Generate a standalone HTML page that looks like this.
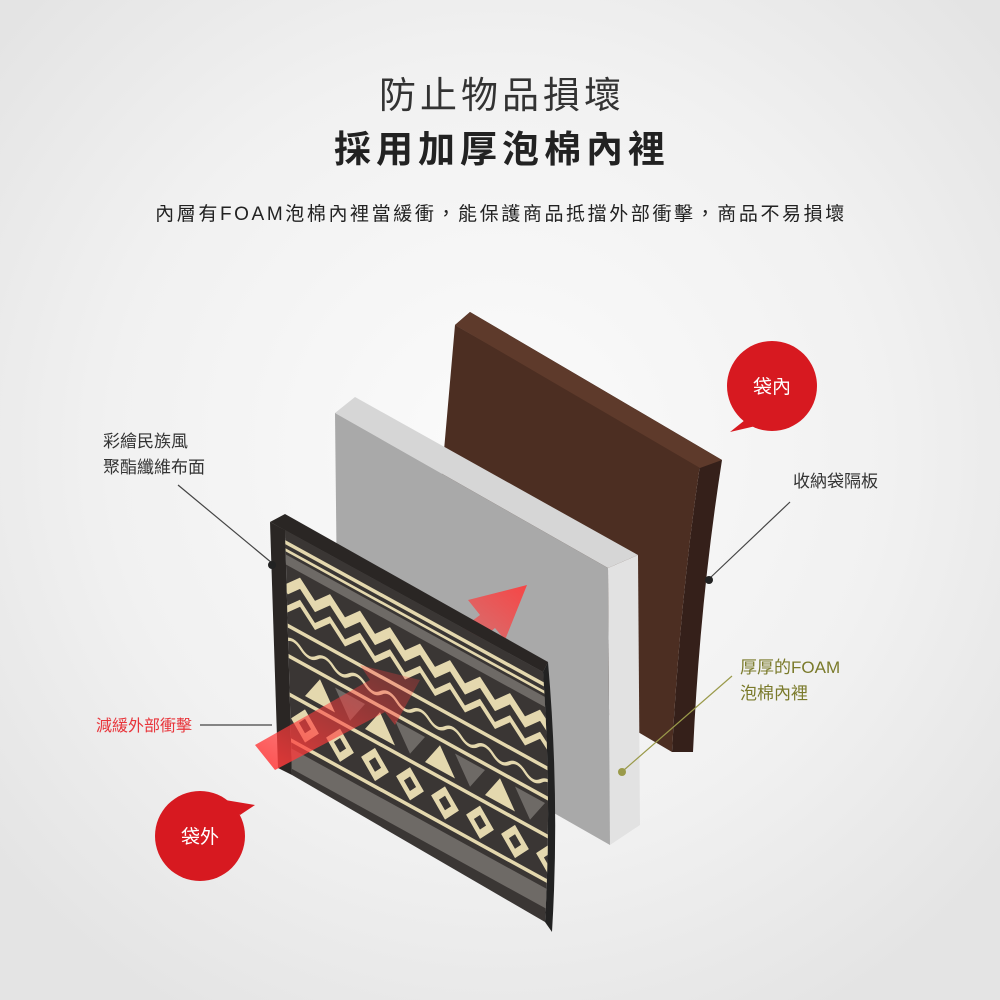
<!DOCTYPE html>
<html><head><meta charset="utf-8"><style>
html,body{margin:0;padding:0;width:1000px;height:1000px;overflow:hidden;background:#eeeeee;}
svg{display:block}
text{font-family:"Liberation Sans","Noto Sans CJK TC",sans-serif;}
</style></head><body>
<svg width="1000" height="1000" viewBox="0 0 1000 1000" xmlns="http://www.w3.org/2000/svg">
<defs>
<radialGradient id="bg" cx="50%" cy="45%" r="65%">
<stop offset="0" stop-color="#fbfbfb"/><stop offset="0.6" stop-color="#f1f1f1"/><stop offset="1" stop-color="#e4e4e4"/></radialGradient>
<linearGradient id="ar1" x1="0" y1="1" x2="1" y2="0">
<stop offset="0" stop-color="#ff3b3b" stop-opacity="0"/><stop offset="1" stop-color="#ff3b3b" stop-opacity="0.9"/></linearGradient>
<linearGradient id="ar2" x1="0" y1="1" x2="1" y2="0">
<stop offset="0" stop-color="#ff3b3b" stop-opacity="0.9"/><stop offset="1" stop-color="#ff3b3b" stop-opacity="0.2"/></linearGradient>
<clipPath id="pc"><path d="M285,530 L543,672 Q552,800 545,922 L292,775 Z"/></clipPath>
</defs>
<rect width="1000" height="1000" fill="url(#bg)"/>
<text x="502" y="108" text-anchor="middle" font-size="37" letter-spacing="4" fill="#333">防止物品損壞</text>
<text x="502" y="162" text-anchor="middle" font-size="37" letter-spacing="5" font-weight="bold" fill="#222">採用加厚泡棉內裡</text>
<text x="501" y="220" text-anchor="middle" font-size="19" letter-spacing="2.6" fill="#222">內層有FOAM泡棉內裡當緩衝，能保護商品抵擋外部衝擊，商品不易損壞</text>

<!-- brown panel -->
<path d="M470,312 L722,460 Q700,600 693,752 L672,752 Q680,600 700,465 L455,325 Z" fill="#35201a"/>
<path d="M455,325 L700,465 Q680,600 672,752 L430,610 Z" fill="#4c2e22"/>
<path d="M470,312 L722,460 L700,468 L455,325 Z" fill="#5e3a2b"/>

<!-- gray foam -->
<path d="M335,413 L355,397 L638,555 L608,568 Z" fill="#d6d6d6"/>
<path d="M608,568 L638,555 L640,825 L610,845 Z" fill="#e2e2e2"/>
<path d="M335,413 L608,568 L610,845 L338,690 Z" fill="#a9a9a9"/>

<!-- arrow behind -->
<path d="M380,690 L480,615 L468,600 L527,585 L505,640 L495,628 L400,705 Z" fill="url(#ar1)"/>

<!-- pattern panel -->
<path d="M270,522 L285,514 L548,662 L543,672 Z" fill="#2a2624"/>
<path d="M543,672 L548,662 Q560,800 552,932 L545,922 Q552,800 543,672 Z" fill="#222"/>
<path d="M270,522 L285,530 L292,775 L278,768 Z" fill="#2a2624"/>
<path d="M285,530 L543,672 Q552,800 545,922 L292,775 Z" fill="#3a3634"/>
<g clip-path="url(#pc)">
<g transform="matrix(1,0.55,0,1,285,530)">
<rect x="0" y="0" width="270" height="8" fill="#3a3634"/>
<rect x="0" y="10" width="270" height="4" fill="#e4d8ae"/>
<rect x="0" y="18" width="270" height="3" fill="#e4d8ae"/>
<rect x="0" y="24" width="270" height="10" fill="#6e6a66"/>
<polyline points="0,60 15,45 30,60 45,45 60,60 75,45 90,60 105,45 120,60 135,45 150,60 165,45 180,60 195,45 210,60 225,45 240,60 255,45 270,60" fill="none" stroke="#e4d8ae" stroke-width="8"/>
<polyline points="0,80 15,65 30,80 45,65 60,80 75,65 90,80 105,65 120,80 135,65 150,80 165,65 180,80 195,65 210,80 225,65 240,80 255,65 270,80" fill="none" stroke="#e4d8ae" stroke-width="5"/>
<rect x="0" y="92" width="270" height="4" fill="#e4d8ae"/>
<path d="M0,110 q8,-8 16,0 t16,0 t16,0 t16,0 t16,0 t16,0 t16,0 t16,0 t16,0 t16,0 t16,0 t16,0 t16,0 t16,0 t16,0 t16,0 t16,0" fill="none" stroke="#e4d8ae" stroke-width="3"/>
<rect x="0" y="122" width="270" height="4" fill="#e4d8ae"/>
<path d="M20,155 l15,-25 l15,25 z M80,155 l15,-25 l15,25 z M140,155 l15,-25 l15,25 z M200,155 l15,-25 l15,25 z" fill="#e4d8ae"/>
<path d="M50,130 l15,25 l15,-25 z M110,130 l15,25 l15,-25 z M170,130 l15,25 l15,-25 z M230,130 l15,25 l15,-25 z" fill="#6e6a66"/>
<rect x="0" y="160" width="270" height="4" fill="#e4d8ae"/>
<g fill="none" stroke="#e4d8ae" stroke-width="6">
<path d="M10,185 l10,-12 l10,12 l-10,12 z"/><path d="M45,185 l10,-12 l10,12 l-10,12 z"/><path d="M80,185 l10,-12 l10,12 l-10,12 z"/><path d="M115,185 l10,-12 l10,12 l-10,12 z"/><path d="M150,185 l10,-12 l10,12 l-10,12 z"/><path d="M185,185 l10,-12 l10,12 l-10,12 z"/><path d="M220,185 l10,-12 l10,12 l-10,12 z"/><path d="M255,185 l10,-12 l10,12 l-10,12 z"/>
</g>
<rect x="0" y="205" width="270" height="4" fill="#e4d8ae"/>
<rect x="0" y="215" width="270" height="20" fill="#6e6a66"/>
</g>
</g>

<!-- front arrow -->
<path d="M255,745 L370,680 L360,665 L420,680 L395,725 L385,712 L275,770 Z" fill="url(#ar2)"/>

<!-- callouts -->
<circle cx="772" cy="386" r="45" fill="#d71920"/>
<path d="M745,420 L730,432 L760,425 Z" fill="#d71920"/>
<text x="772" y="393" text-anchor="middle" font-size="19" fill="#fff">袋內</text>
<circle cx="200" cy="836" r="45" fill="#d71920"/>
<path d="M225,800 L255,805 L240,815 Z" fill="#d71920"/>
<text x="200" y="843" text-anchor="middle" font-size="19" fill="#fff">袋外</text>

<text x="103" y="447" font-size="17" fill="#333">彩繪民族風</text>
<text x="103" y="473" font-size="17" fill="#333">聚酯纖維布面</text>
<line x1="178" y1="485" x2="272" y2="563" stroke="#444" stroke-width="1.2"/>
<circle cx="272" cy="565" r="4" fill="#222"/>

<text x="793" y="487" font-size="17" fill="#333">收納袋隔板</text>
<line x1="790" y1="502" x2="710" y2="578" stroke="#444" stroke-width="1.2"/>
<circle cx="709" cy="580" r="4" fill="#222"/>

<text x="740" y="673" font-size="17" fill="#7a7a2a">厚厚的FOAM</text>
<text x="740" y="699" font-size="17" fill="#7a7a2a">泡棉內裡</text>
<line x1="732" y1="676" x2="624" y2="770" stroke="#9a9a4a" stroke-width="1.2"/>
<circle cx="622" cy="772" r="4" fill="#9a9a4a"/>

<text x="96" y="731" font-size="16" fill="#e8353b">減緩外部衝擊</text>
<line x1="200" y1="725" x2="272" y2="725" stroke="#444" stroke-width="1.2"/>
</svg>
</body></html>
